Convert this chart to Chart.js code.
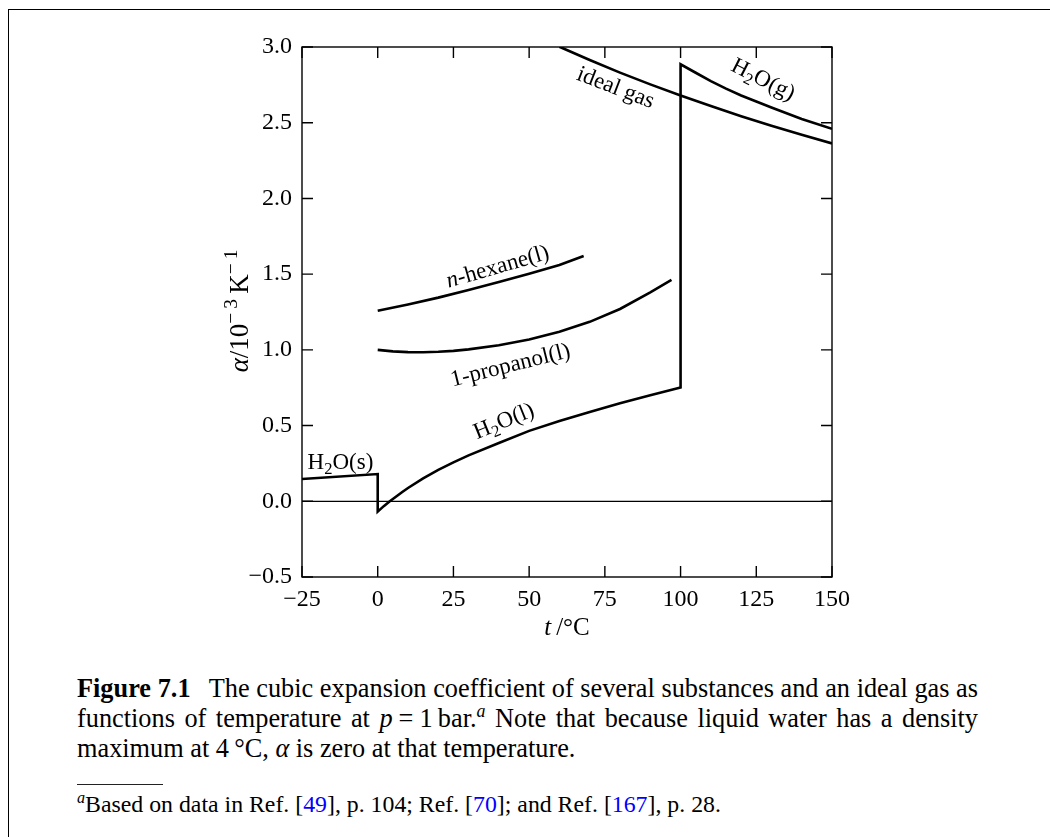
<!DOCTYPE html>
<html><head><meta charset="utf-8">
<script src="https://cdn.jsdelivr.net/npm/chart.js@4.4.1/dist/chart.umd.min.js"></script>
<style>
html,body{margin:0;padding:0;background:#fff;}
body{width:1050px;height:837px;position:relative;overflow:hidden;font-family:"Liberation Serif","Times New Roman",serif;color:#000;}
#frame{position:absolute;left:8px;top:9px;width:1100px;height:900px;border-top:1.5px solid #000;border-left:1.5px solid #000;}
#wrap{position:absolute;left:0;top:0;width:1050px;height:660px;}
.cap{position:absolute;left:77px;width:901px;font-size:26.3px;line-height:30px;white-space:nowrap;}
.just{text-align:justify;text-align-last:justify;white-space:normal;}
.fig{font-weight:bold;margin-right:12px;}
sup{font-size:0.68em;line-height:0;vertical-align:0.55em;}
.m{margin:0 6px;}
.foot{position:absolute;left:77px;top:791px;font-size:23.8px;line-height:26px;white-space:nowrap;}
.l{color:#0000ff;}
#rule{position:absolute;left:77px;top:784px;width:86px;height:1px;background:#222;}
</style>
</head><body>
<div id="frame"></div>
<div id="wrap"><canvas id="c" width="1050" height="660"></canvas></div>
<div class="cap just" style="top:674px;"><span class="fig">Figure 7.1</span> The cubic expansion coefficient of several substances and an ideal gas as</div>
<div class="cap just" style="top:704px;">functions of temperature at <i>p</i><span class="m">=</span>1&#8201;bar.<sup><i>a</i></sup> Note that because liquid water has a density</div>
<div class="cap" style="top:734px;">maximum at 4&#8201;°C, <i>α</i> is zero at that temperature.</div>
<div id="rule"></div>
<div class="foot"><sup><i>a</i></sup>Based on data in Ref. [<span class="l">49</span>], p. 104; Ref. [<span class="l">70</span>]; and Ref. [<span class="l">167</span>], p. 28.</div>
<script>
// ---- data (t in °C, alpha in 1e-3 K^-1) ----
const tempTicks = [-25, 0, 25, 50, 75, 100, 125, 150];
const alphaTicks = [-0.5, 0, 0.5, 1.0, 1.5, 2.0, 2.5, 3.0];

const iceT = [-25, 0];
const iceA = [0.147, 0.180];

const liqT = [0, 1, 2, 4, 6, 8, 10, 15, 20, 25, 30, 40, 50, 60, 70, 80, 90, 100];
const liqA = [-0.068, -0.050, -0.032, 0.000, 0.030, 0.060, 0.088, 0.151, 0.207, 0.257, 0.303, 0.385, 0.465, 0.530, 0.590, 0.648, 0.700, 0.752];

const vapT = [100, 105, 110, 115, 120, 125, 130, 140, 150];
const vapA = [2.886, 2.830, 2.775, 2.725, 2.680, 2.640, 2.600, 2.525, 2.460];

const idealT = [60, 70, 80, 90, 100, 110, 120, 130, 140, 150];
const idealA = [3.002, 2.914, 2.831, 2.753, 2.680, 2.610, 2.543, 2.480, 2.420, 2.363];

const hexT = [0, 10, 20, 30, 40, 50, 60, 68];
const hexA = [1.258, 1.300, 1.345, 1.395, 1.448, 1.503, 1.560, 1.620];

const propT = [0, 5, 10, 15, 20, 25, 30, 40, 50, 60, 70, 80, 90, 97];
const propA = [1.000, 0.990, 0.985, 0.984, 0.987, 0.993, 1.003, 1.030, 1.068, 1.120, 1.185, 1.270, 1.380, 1.462];

const zeroT = [-25, 150];
const zeroA = [0, 0];

// curve labels: anchor in data coordinates, rotation in degrees
const curveLabels = [
  {t: 78.7, a: 2.738, rot: 21, parts: [['ideal gas', 'n']]},
  {t: 127.4, a: 2.79, rot: 27, parts: [['H', 'n'], ['2', 'sub'], ['O(g)', 'n']]},
  {t: 39.5, a: 1.555, rot: -16, parts: [['n', 'i'], ['-hexane(l)', 'n']]},
  {t: 43.7, a: 0.905, rot: -14, parts: [['1-propanol(l)', 'n']]},
  {t: 41.5, a: 0.535, rot: -22, parts: [['H', 'n'], ['2', 'sub'], ['O(l)', 'n']]},
  {t: -12.3, a: 0.265, rot: 0, parts: [['H', 'n'], ['2', 'sub'], ['O(s)', 'n']]}
];

const pts = (xs, ys) => xs.map((x, i) => ({x: x, y: ys[i]}));
const waterData = [].concat(pts(iceT, iceA), pts(liqT, liqA), pts(vapT, vapA));

const FAM = '"Liberation Serif", "Times New Roman", serif';

function richWidth(ctx, parts, size) {
  let w = 0;
  for (const [txt, st] of parts) {
    const s = (st === 'sub' || st === 'sup') ? size * 0.72 : size;
    ctx.font = (st === 'i' ? 'italic ' : '') + s + 'px ' + FAM;
    w += ctx.measureText(txt).width;
  }
  return w;
}
function drawRich(ctx, parts, size, cx, cy, rotDeg) {
  ctx.save();
  ctx.translate(cx, cy);
  ctx.rotate(rotDeg * Math.PI / 180);
  const w = richWidth(ctx, parts, size);
  let x = -w / 2;
  const base = size * 0.33;
  ctx.fillStyle = '#000';
  ctx.textBaseline = 'alphabetic';
  ctx.textAlign = 'left';
  for (const [txt, st] of parts) {
    let s = size, dy = 0;
    if (st === 'sub') { s = size * 0.72; dy = size * 0.22; }
    if (st === 'sup') { s = size * 0.72; dy = -size * 0.42; }
    ctx.font = (st === 'i' ? 'italic ' : '') + s + 'px ' + FAM;
    ctx.fillText(txt, x, base + dy);
    x += ctx.measureText(txt).width;
  }
  ctx.restore();
}

const framePlugin = {
  id: 'framePlugin',
  afterDraw(chart) {
    const ctx = chart.ctx;
    const xs = chart.scales.x, ys = chart.scales.y;
    const a = chart.chartArea;
    ctx.save();
    ctx.strokeStyle = '#000';
    ctx.lineWidth = 1.4;
    ctx.strokeRect(a.left, a.top, a.right - a.left, a.bottom - a.top);
    const tl = 11;
    ctx.beginPath();
    for (const v of tempTicks) {
      const px = xs.getPixelForValue(v);
      ctx.moveTo(px, a.bottom); ctx.lineTo(px, a.bottom - tl);
      ctx.moveTo(px, a.top); ctx.lineTo(px, a.top + tl);
    }
    for (const v of alphaTicks) {
      const py = ys.getPixelForValue(v);
      ctx.moveTo(a.left, py); ctx.lineTo(a.left + tl, py);
      ctx.moveTo(a.right, py); ctx.lineTo(a.right - tl, py);
    }
    ctx.stroke();
    ctx.restore();

    // axis titles
    drawRich(ctx, [['t', 'i'], ['\u2009/°C', 'n']], 25, (a.left + a.right) / 2, 627, 0);
    drawRich(ctx, [['α', 'i'], ['/10', 'n'], ['\u2212\u202F3', 'sup'], ['\u2009K', 'n'], ['\u2212\u202F1', 'sup']], 27, 239, (a.top + a.bottom) / 2 - 1, -90);

    // curve labels
    for (const L of curveLabels) {
      drawRich(ctx, L.parts, 23, xs.getPixelForValue(L.t), ys.getPixelForValue(L.a), L.rot);
    }
  }
};

const lineStyle = {borderColor: '#000', borderWidth: 2.6, pointRadius: 0, fill: false, tension: 0, borderJoinStyle: 'miter', borderCapStyle: 'butt'};

new Chart(document.getElementById('c'), {
  type: 'line',
  data: {
    datasets: [
      Object.assign({label: 'zero', data: pts(zeroT, zeroA)}, lineStyle, {borderWidth: 1.3}),
      Object.assign({label: 'H2O', data: waterData}, lineStyle),
      Object.assign({label: 'ideal gas', data: pts(idealT, idealA)}, lineStyle),
      Object.assign({label: 'n-hexane(l)', data: pts(hexT, hexA)}, lineStyle),
      Object.assign({label: '1-propanol(l)', data: pts(propT, propA)}, lineStyle)
    ]
  },
  options: {
    responsive: false,
    animation: false,
    devicePixelRatio: 1,
    layout: {padding: {left: 0, right: 218, top: 47, bottom: 0}},
    plugins: {legend: {display: false}, tooltip: {enabled: false}},
    scales: {
      x: {
        type: 'linear', min: -25, max: 150,
        afterFit(s) { s.height = 83; },
        afterBuildTicks(s) { s.ticks = tempTicks.map(v => ({value: v})); },
        grid: {drawOnChartArea: false, drawTicks: false},
        border: {display: false},
        ticks: {
          padding: 8, color: '#000', maxRotation: 0, autoSkip: false,
          font: {family: FAM, size: 24},
          callback: v => (v < 0 ? '\u2212' + Math.abs(v) : String(v))
        }
      },
      y: {
        type: 'linear', min: -0.5, max: 3.0,
        afterFit(s) { s.width = 302; },
        afterBuildTicks(s) { s.ticks = alphaTicks.map(v => ({value: v})); },
        grid: {drawOnChartArea: false, drawTicks: false},
        border: {display: false},
        ticks: {
          padding: 10, color: '#000', autoSkip: false,
          font: {family: FAM, size: 24},
          callback: v => (v < 0 ? '\u2212' + Math.abs(v).toFixed(1) : v.toFixed(1))
        }
      }
    }
  },
  plugins: [framePlugin]
});
</script>
</body></html>
